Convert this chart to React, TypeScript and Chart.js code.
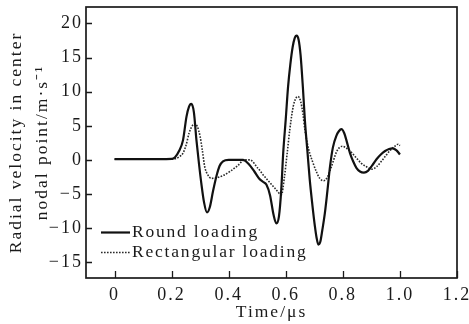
import React, { useEffect, useRef } from 'react';
import { Chart, registerables } from 'chart.js';

Chart.register(...registerables);

// ---- data ----
const roundTimes = [
  0, 0.1, 0.2, 0.212, 0.226, 0.24, 0.252, 0.261, 0.269, 0.278, 0.287, 0.296, 0.304, 0.314, 0.324, 0.334,
  0.345, 0.357, 0.368, 0.38, 0.40, 0.43, 0.45, 0.47, 0.49, 0.508, 0.52, 0.532, 0.545, 0.557, 0.567,
  0.576, 0.584, 0.591, 0.6, 0.608, 0.616, 0.624, 0.631, 0.638, 0.645, 0.652, 0.66, 0.667, 0.676, 0.684,
  0.693, 0.702, 0.708, 0.714, 0.721, 0.728, 0.737, 0.746, 0.755, 0.765, 0.778, 0.786, 0.795, 0.805,
  0.815, 0.825, 0.836, 0.848, 0.86, 0.874, 0.888, 0.903, 0.918, 0.933, 0.948, 0.962, 0.974, 0.988, 1.0,
];
const roundValues = [
  0.1, 0.1, 0.15, 0.4, 1.3, 2.9, 6.3, 7.8, 8.2, 7.0, 2.9, -0.6, -3.4, -6.3, -7.7, -6.9,
  -4.6, -2.4, -0.9, -0.2, 0, 0, 0, -0.6, -1.7, -2.8, -3.2, -3.6, -5.2, -8.0, -9.3,
  -8.3, -4.5, 1.0, 6.0, 10.7, 14.0, 16.5, 17.8, 18.2, 17.6, 15.3, 10.6, 5.8, 1.2, -2.9,
  -6.5, -9.7, -11.4, -12.4, -12.0, -10.3, -7.8, -4.5, -1.0, 1.8, 3.6, 4.2, 4.5, 3.9,
  2.5, 1.0, -0.2, -1.2, -1.7, -1.85, -1.6, -0.8, 0.1, 0.8, 1.3, 1.6, 1.7, 1.4, 0.8,
];

const rectTimes = [
  0, 0.1, 0.2, 0.215, 0.228, 0.24, 0.251, 0.261, 0.271, 0.281, 0.29, 0.3, 0.308, 0.316, 0.327, 0.339,
  0.36, 0.38, 0.404, 0.43, 0.456, 0.474, 0.5, 0.525, 0.544, 0.565, 0.585, 0.595, 0.605, 0.614, 0.626,
  0.635, 0.643, 0.652, 0.66, 0.667, 0.68, 0.696, 0.708, 0.719, 0.733, 0.746, 0.76, 0.778, 0.788, 0.798,
  0.81, 0.83, 0.848, 0.865, 0.883, 0.902, 0.918, 0.935, 0.952, 0.968, 0.982, 0.994, 1.0,
];
const rectValues = [
  0.1, 0.1, 0.1, 0.2, 0.5, 1.0, 2.2, 3.9, 4.9, 5.3, 4.9, 3.4, 1.3, -1.0, -2.2, -2.7,
  -2.6, -2.3, -1.7, -0.9, 0, 0, -1.1, -2.4, -3.3, -4.3, -5.1, -2.6, 1.0, 4.4, 7.8,
  9.0, 9.3, 8.6, 6.8, 4.4, 1.6, -0.5, -1.8, -2.7, -3.05, -2.5, -1.0, 1.2, 1.8, 2.0,
  1.8, 1.1, 0.25, -0.5, -1.0, -1.36, -1.0, -0.2, 0.7, 1.5, 2.0, 2.3, 2.1,
];

const seriesLabels = ['Round loading', 'Rectangular loading'];
const xTicks = [0, 0.2, 0.4, 0.6, 0.8, 1.0, 1.2];
const xTickLabels = ['0', '0.2', '0.4', '0.6', '0.8', '1.0', '1.2'];
const yTicks = [-15, -10, -5, 0, 5, 10, 15, 20];
const yTickLabels = ['\u221215', '\u221210', '\u22125', '0', '5', '10', '15', '20'];
const xTitle = 'Time/\u03bcs';
const yTitle = ['Radial velocity in center', 'nodal point/m\u00b7s\u207b\u00b9'];

const FONT = "'Liberation Serif', 'Times New Roman', serif";
const INK = '#1a1a1a';

const spacingPlugin = {
  id: 'spacing',
  beforeDraw(chart: any) {
    chart.ctx.letterSpacing = '2px';
  },
};

const framePlugin = {
  id: 'frame',
  afterDatasetsDraw(chart: any) {
    const { ctx, chartArea } = chart;
    const { left, right, top, bottom } = chartArea;
    const xs = chart.scales.x;
    const ys = chart.scales.y;
    ctx.save();
    ctx.letterSpacing = '0px';
    ctx.strokeStyle = INK;
    ctx.lineWidth = 1.3;
    ctx.beginPath();
    xTicks.forEach((v) => {
      const px = Math.round(xs.getPixelForValue(v)) + 0.5;
      ctx.moveTo(px, bottom);
      ctx.lineTo(px, bottom - 7);
    });
    yTicks.forEach((v) => {
      const py = Math.round(ys.getPixelForValue(v)) + 0.5;
      ctx.moveTo(left, py);
      ctx.lineTo(left + 6, py);
    });
    ctx.stroke();
    ctx.lineWidth = 1.7;
    ctx.strokeRect(left, top, right - left, bottom - top);
    ctx.restore();
  },
  afterDraw(chart: any) {
    const { ctx, chartArea } = chart;
    const { left, bottom } = chartArea;
    ctx.save();
    ctx.letterSpacing = '1.8px';
    ctx.font = `17.5px ${FONT}`;
    ctx.textBaseline = 'middle';
    ctx.textAlign = 'left';
    ctx.fillStyle = INK;
    chart.data.datasets.forEach((ds: any, i: number) => {
      const y = bottom - 45.5 + i * 20;
      ctx.strokeStyle = ds.borderColor;
      ctx.lineWidth = ds.borderWidth;
      ctx.setLineDash(ds.borderDash || []);
      ctx.beginPath();
      ctx.moveTo(left + 15, y);
      ctx.lineTo(left + 44, y);
      ctx.stroke();
      ctx.fillText(ds.label, left + 46, y);
    });
    ctx.restore();
  },
};

export default function App() {
  const ref = useRef<HTMLCanvasElement | null>(null);

  useEffect(() => {
    document.body.style.margin = '0';
    const canvas = ref.current;
    if (!canvas) return;
    const chart = new Chart(canvas, {
      type: 'line',
      data: {
        datasets: [
          {
            label: seriesLabels[0],
            data: roundTimes.map((t, i) => ({ x: t, y: roundValues[i] })),
            borderColor: '#111111',
            borderWidth: 2.2,
            pointRadius: 0,
            fill: false,
            cubicInterpolationMode: 'monotone',
          },
          {
            label: seriesLabels[1],
            data: rectTimes.map((t, i) => ({ x: t, y: rectValues[i] })),
            borderColor: '#2a2a2a',
            borderWidth: 1.6,
            borderDash: [1.6, 1.4],
            pointRadius: 0,
            fill: false,
            cubicInterpolationMode: 'monotone',
          },
        ],
      },
      options: {
        animation: false,
        responsive: false,
        devicePixelRatio: 1,
        layout: { padding: { left: 0, right: 12, top: 7, bottom: 0 } },
        plugins: { legend: { display: false }, tooltip: { enabled: false } },
        scales: {
          x: {
            type: 'linear',
            min: -0.1,
            max: 1.2,
            afterBuildTicks: (s: any) => {
              s.ticks = xTicks.map((v) => ({ value: v }));
            },
            afterFit: (s: any) => {
              s.height = 46;
              s.paddingLeft = 0;
              s.paddingRight = 0;
              s.paddingTop = 0;
              s.paddingBottom = 0;
            },
            grid: { display: false, drawTicks: false },
            border: { display: false },
            ticks: {
              autoSkip: false,
              maxRotation: 0,
              padding: 6,
              color: INK,
              font: { family: FONT, size: 18 },
              callback: (v: any) => {
                const i = xTicks.findIndex((t) => Math.abs(t - v) < 1e-9);
                return i >= 0 ? xTickLabels[i] : '';
              },
            },
            title: {
              display: true,
              text: xTitle,
              color: INK,
              font: { family: FONT, size: 17.5 },
              padding: { top: 0, bottom: 1 },
            },
          },
          y: {
            type: 'linear',
            min: -17.3,
            max: 22.4,
            afterBuildTicks: (s: any) => {
              s.ticks = yTicks.map((v) => ({ value: v }));
            },
            afterFit: (s: any) => {
              s.width = 86;
              s.paddingLeft = 0;
              s.paddingRight = 0;
              s.paddingTop = 0;
              s.paddingBottom = 0;
            },
            grid: { display: false, drawTicks: false },
            border: { display: false },
            ticks: {
              autoSkip: false,
              padding: 3,
              color: INK,
              font: { family: FONT, size: 18 },
              callback: (v: any) => {
                const i = yTicks.findIndex((t) => Math.abs(t - v) < 1e-9);
                return i >= 0 ? yTickLabels[i] : '';
              },
            },
            title: {
              display: true,
              text: yTitle,
              color: INK,
              font: { family: FONT, size: 17.5, lineHeight: 1.5 },
              padding: { top: 3, bottom: 0 },
            },
          },
        },
      },
      plugins: [spacingPlugin, framePlugin],
    } as any);
    return () => chart.destroy();
  }, []);

  return (
    <div style={{ width: 469, height: 324, background: '#ffffff' }}>
      <canvas ref={ref} width={469} height={324} style={{ display: 'block' }} />
    </div>
  );
}
